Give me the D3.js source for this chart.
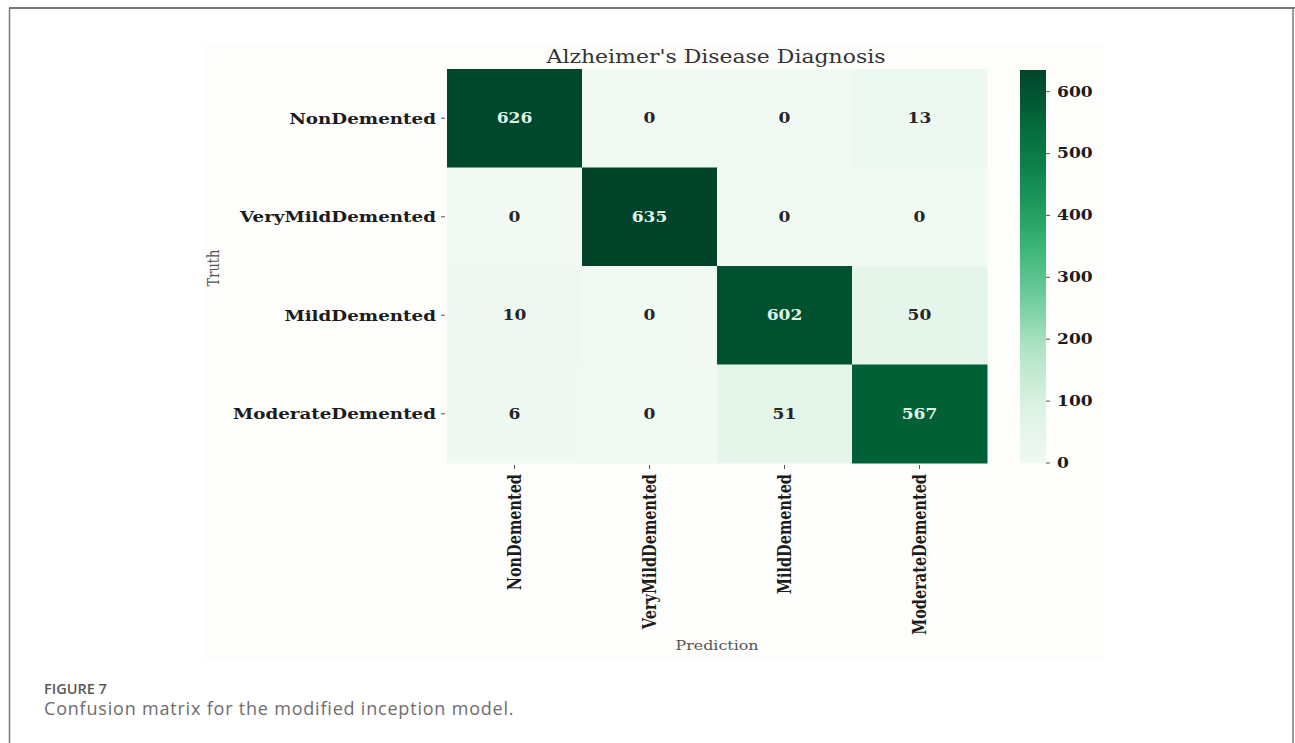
<!DOCTYPE html>
<html>
<head>
<meta charset="utf-8">
<script src="https://cdn.jsdelivr.net/npm/d3@7"></script>
<style>
  body { margin: 0; background: #ffffff; }
  svg { display: block; }
</style>
</head>
<body>
<svg id="chart" width="1295" height="743"></svg>
<script>
// Class labels (rows = truth, columns = prediction)
const classes = ["NonDemented", "VeryMildDemented", "MildDemented", "ModerateDemented"];
// Confusion matrix counts, one array per true class
const rowNonDemented      = [626, 0, 0, 13];
const rowVeryMildDemented = [0, 635, 0, 0];
const rowMildDemented     = [10, 0, 602, 50];
const rowModerateDemented = [6, 0, 51, 567];
const matrix = [rowNonDemented, rowVeryMildDemented, rowMildDemented, rowModerateDemented];
// Colour bar ticks
const colorbarTicks = [0, 100, 200, 300, 400, 500, 600];
const chartTitle = "Alzheimer's Disease Diagnosis";
const xAxisTitle = "Prediction";
const yAxisTitle = "Truth";
const figureLabel = "FIGURE 7";
const figureCaption = "Confusion matrix for the modified inception model.";

// Green palette, light to dark
const paletteStops = ["#f0f9f2", "#dcf2e3", "#b3e4c6", "#6ccb9b", "#33b071", "#138a52", "#036a3b", "#00432a"];

const svg = d3.select("#chart");
const SX = 1.22;               // horizontal stretch of the plotted figure text
const serif = "'DejaVu Serif', serif";

// Page frame
svg.append("line").attr("x1", 9).attr("x2", 1295).attr("y1", 8).attr("y2", 8)
  .attr("stroke", "#484848").attr("stroke-width", 1.5);
svg.append("line").attr("x1", 9.5).attr("x2", 9.5).attr("y1", 8).attr("y2", 743)
  .attr("stroke", "#7a7a7a").attr("stroke-width", 1.5);
svg.append("line").attr("x1", 1293).attr("x2", 1293).attr("y1", 8).attr("y2", 743)
  .attr("stroke", "#7a7a7a").attr("stroke-width", 1.5);

// Figure background
svg.append("rect").attr("x", 203).attr("y", 45).attr("width", 900).attr("height", 615)
  .attr("fill", "#fdfdfb");

const vmax = d3.max(matrix.flat());
const color = d3.scaleLinear()
  .domain(paletteStops.map((_, i) => i * vmax / (paletteStops.length - 1)))
  .range(paletteStops)
  .interpolate(d3.interpolateRgb)
  .clamp(true);

const x = d3.scaleBand().domain(classes).range([447, 987]);
const y = d3.scaleBand().domain(classes).range([69, 463]);

function place(sel, px, py, rot) {
  sel.attr("transform", `translate(${px},${py}) scale(${SX},1)` + (rot ? ` rotate(${rot})` : ""));
}

// Cells
const cells = [];
matrix.forEach((row, i) => row.forEach((v, j) => cells.push({ truth: classes[i], pred: classes[j], v })));

const g = svg.append("g");
g.selectAll("rect.cell").data(cells).join("rect")
  .attr("class", "cell")
  .attr("x", d => x(d.pred))
  .attr("y", d => y(d.truth))
  .attr("width", x.bandwidth() + 0.5)
  .attr("height", y.bandwidth() + 0.5)
  .attr("fill", d => color(d.v));

g.selectAll("text.val").data(cells).join("text")
  .attr("class", "val")
  .each(function (d) {
    place(d3.select(this), x(d.pred) + x.bandwidth() / 2, y(d.truth) + y.bandwidth() / 2);
  })
  .attr("text-anchor", "middle")
  .attr("dominant-baseline", "central")
  .attr("font-family", serif)
  .attr("font-weight", "bold")
  .attr("font-size", 14)
  .attr("fill", d => d3.hsl(color(d.v)).l < 0.45 ? "#dff2e7" : "#262626")
  .text(d => d.v);

// Y axis ticks and labels
classes.forEach(c => {
  const cy = y(c) + y.bandwidth() / 2;
  svg.append("line").attr("x1", 441).attr("x2", 445).attr("y1", cy).attr("y2", cy)
    .attr("stroke", "#555").attr("stroke-width", 1);
  svg.append("text")
    .call(s => place(s, 436, cy))
    .attr("text-anchor", "end").attr("dominant-baseline", "central")
    .attr("font-family", serif).attr("font-weight", "bold").attr("font-size", 15)
    .attr("fill", "#1c1c1c").text(c);
});

// X axis ticks and labels (rotated)
classes.forEach(c => {
  const cx = x(c) + x.bandwidth() / 2;
  svg.append("line").attr("x1", cx).attr("x2", cx).attr("y1", 465).attr("y2", 469)
    .attr("stroke", "#555").attr("stroke-width", 1);
  svg.append("text")
    .call(s => place(s, cx, 474, -90))
    .attr("text-anchor", "end").attr("dominant-baseline", "central")
    .attr("font-family", serif).attr("font-weight", "bold").attr("font-size", 14.5)
    .attr("fill", "#1c1c1c").text(c);
});

// Axis titles and chart title
svg.append("text").call(s => place(s, 716, 63))
  .attr("text-anchor", "middle").attr("font-family", serif).attr("font-size", 18)
  .attr("fill", "#333").text(chartTitle);
svg.append("text").call(s => place(s, 717, 650))
  .attr("text-anchor", "middle").attr("font-family", serif).attr("font-size", 13)
  .attr("fill", "#555").text(xAxisTitle);
svg.append("text").call(s => place(s, 214, 268, -90))
  .attr("text-anchor", "middle").attr("dominant-baseline", "central")
  .attr("font-family", serif).attr("font-size", 13)
  .attr("fill", "#555").text(yAxisTitle);

// Colour bar
const cb = { x: 1020, w: 26 };
const cbScale = d3.scaleLinear().domain([0, vmax]).range([463, 70]);
const grad = svg.append("defs").append("linearGradient")
  .attr("id", "cbGrad").attr("x1", 0).attr("x2", 0).attr("y1", 1).attr("y2", 0);
d3.range(0, 1.0001, 0.05).forEach(t => {
  grad.append("stop").attr("offset", t).attr("stop-color", color(t * vmax));
});
svg.append("rect").attr("x", cb.x).attr("y", cbScale(vmax)).attr("width", cb.w)
  .attr("height", cbScale(0) - cbScale(vmax)).attr("fill", "url(#cbGrad)");

colorbarTicks.forEach(t => {
  const ty = cbScale(t);
  svg.append("line").attr("x1", cb.x + cb.w).attr("x2", cb.x + cb.w + 4)
    .attr("y1", ty).attr("y2", ty).attr("stroke", "#555").attr("stroke-width", 1);
  svg.append("text").call(s => place(s, cb.x + cb.w + 11, ty))
    .attr("dominant-baseline", "central")
    .attr("font-family", serif).attr("font-weight", "bold").attr("font-size", 14)
    .attr("fill", "#1c1c1c").text(t);
});

// Caption
svg.append("text").attr("x", 44).attr("y", 694)
  .attr("font-family", "'Open Sans', sans-serif").attr("font-weight", 600).attr("font-size", 14.5)
  .attr("fill", "#595959").text(figureLabel);
svg.append("text").attr("x", 44).attr("y", 715)
  .attr("font-family", "'Open Sans', sans-serif").attr("font-size", 18)
  .attr("letter-spacing", 0.8)
  .attr("fill", "#6e6e6e").text(figureCaption);
</script>
</body>
</html>
